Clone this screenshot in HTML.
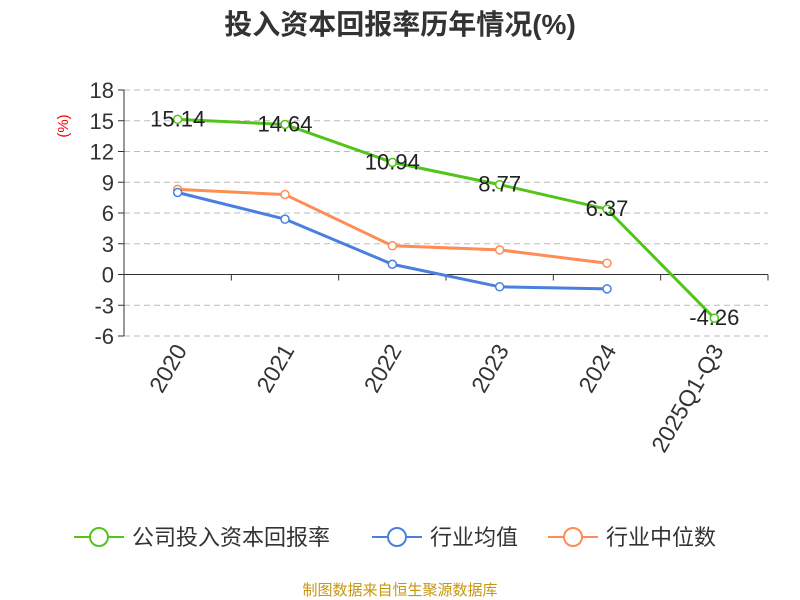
<!DOCTYPE html>
<html><head><meta charset="utf-8"><style>
body{margin:0;background:#fff;}
svg{display:block;font-family:"Liberation Sans","Noto Sans CJK SC",sans-serif;}
</style></head><body>
<svg id="chart" width="800" height="600">
<text x="400" y="34" text-anchor="middle" font-size="28" font-weight="bold" fill="#333">投入资本回报率历年情况(%)</text>
<text transform="translate(68,126) rotate(-90)" text-anchor="middle" font-size="15" fill="#e00">(%)</text>
<g id="grid"></g><g id="axes"></g><g id="series"></g>
<g id="legend"></g>
<text x="400" y="595" text-anchor="middle" font-size="15" fill="#c8950e">制图数据来自恒生聚源数据库</text>
</svg>
<script>
const categories=["2020","2021","2022","2023","2024","2025Q1-Q3"];
const companyValues=[15.14,14.64,10.94,8.77,6.37,-4.26];
const industryAvg=[8.0,5.4,1.0,-1.2,-1.4];
const industryMedian=[8.3,7.8,2.8,2.4,1.1];
const yTicks=[18,15,12,9,6,3,0,-3,-6];
const seriesNames=["公司投入资本回报率","行业均值","行业中位数"];
const colors=["#52c41a","#4a7fe0","#ff8c55"];
const NS="http://www.w3.org/2000/svg";
const L=124,R=768,T=90,B=336,ymin=-6,ymax=18;
const y=v=>T+(ymax-v)/(ymax-ymin)*(B-T);
const bw=(R-L)/categories.length;
const x=i=>L+bw*(i+0.5);
function mk(tag,parent,attrs){const e=document.createElementNS(NS,tag);for(const k in attrs)e.setAttribute(k,attrs[k]);parent.appendChild(e);return e;}
const grid=document.getElementById('grid'),axes=document.getElementById('axes'),ser=document.getElementById('series'),leg=document.getElementById('legend');
yTicks.forEach(t=>{
 if(t!==0){const g=mk('line',grid,{x1:L,x2:R,y1:y(t),y2:y(t),stroke:'#bbb','stroke-dasharray':'6,4'});
 
 }
 const tk=mk('line',axes,{x1:L-6,x2:L,y1:y(t),y2:y(t),stroke:'#333'});
 
 
 const tl=mk('text',axes,{x:L-10,y:y(t)+8,'text-anchor':'end','font-size':22,fill:'#333'});tl.textContent=t;
 
 
});
const ya=mk('line',axes,{x1:L,x2:L,y1:T,y2:B,stroke:'#333'});


const xa=mk('line',axes,{x1:L,x2:R,y1:y(0),y2:y(0),stroke:'#333'});


for(let i=0;i<=categories.length;i++){const tk=mk('line',axes,{x1:L+bw*i,x2:L+bw*i,y1:y(0),y2:y(0)+6,stroke:'#333'});
 
 }
categories.forEach((c,i)=>{const t=mk('text',axes,{transform:`translate(${x(i)+10},${350}) rotate(-60)`,'text-anchor':'end','font-size':23,fill:'#333'});t.textContent=c;
 
 });
function drawLine(vals,col,name,labels){
 const g=mk('g',ser,{});
 
 
 mk('polyline',g,{points:vals.map((v,i)=>x(i)+','+y(v)).join(' '),fill:'none',stroke:col,'stroke-width':3});
 vals.forEach((v,i)=>{const p=mk('circle',g,{cx:x(i),cy:y(v),r:4,fill:'#fff',stroke:col,'stroke-width':1.5});
  
  
  if(labels){const t=mk('text',g,{x:x(i),y:y(v)+7,'text-anchor':'middle','font-size':22,fill:'#222'});t.textContent=v.toFixed(2);
   
   }
 });
}
drawLine(industryMedian,colors[2],'series-industry-median',false);
drawLine(industryAvg,colors[1],'series-industry-average',false);
drawLine(companyValues,colors[0],'series-company-roic',true);
const lx=[74,372,548];
seriesNames.forEach((n,i)=>{
 const g=mk('g',leg,{});
 
 
 mk('line',g,{x1:lx[i],x2:lx[i]+50,y1:537,y2:537,stroke:colors[i],'stroke-width':2});
 mk('circle',g,{cx:lx[i]+25,cy:537,r:9,fill:'#fff',stroke:colors[i],'stroke-width':2});
 const t=mk('text',g,{x:lx[i]+58,y:545,'font-size':22,fill:'#333'});t.textContent=n;
});
</script>
</body></html>
